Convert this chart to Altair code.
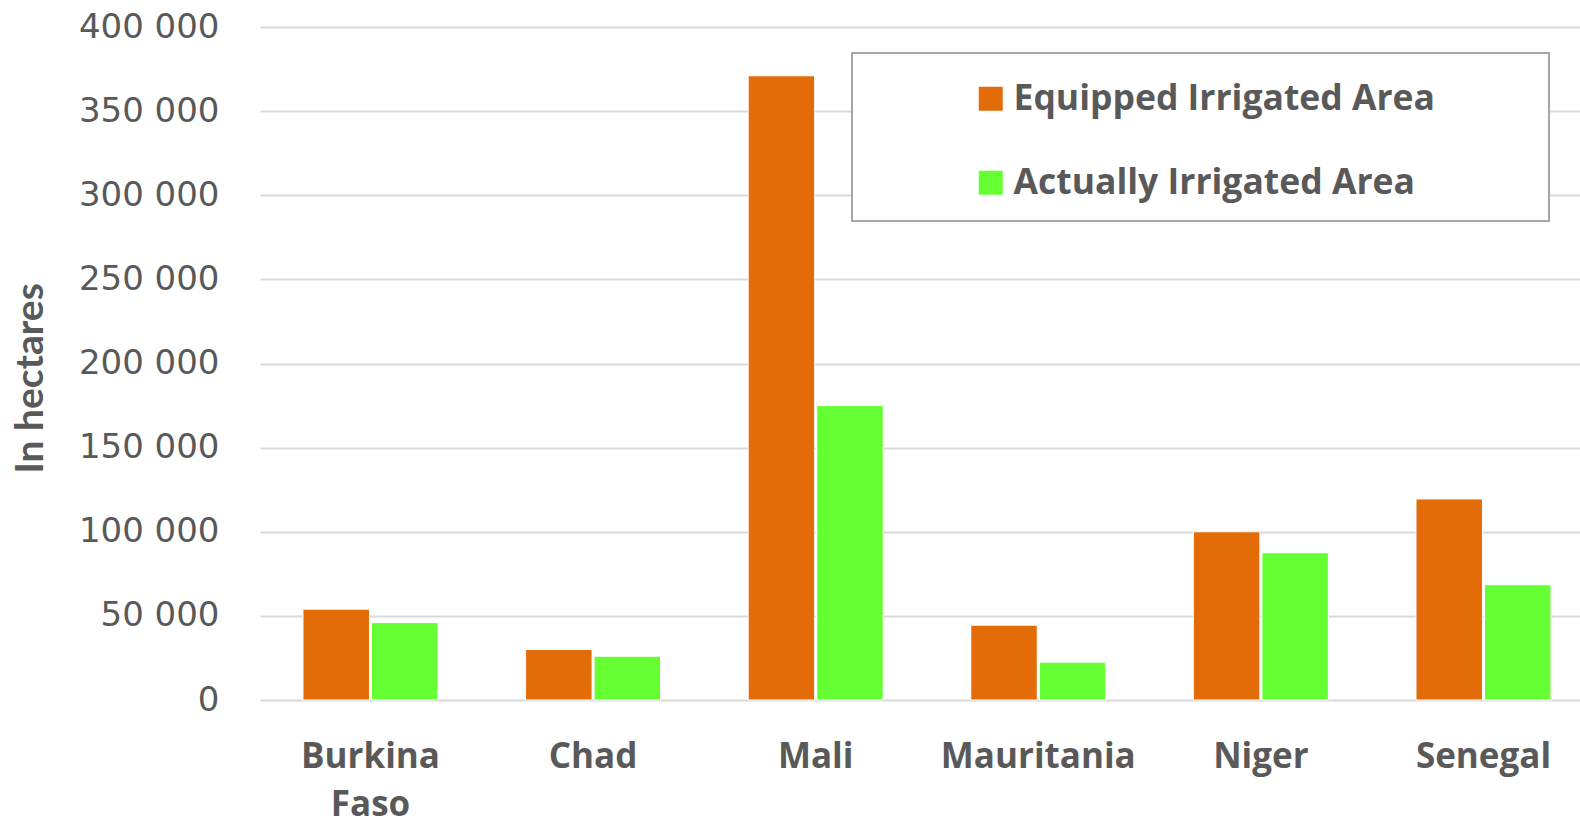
import altair as alt
import pandas as pd

countries = ["Burkina Faso", "Chad", "Mali", "Mauritania", "Niger", "Senegal"]
series = ["Equipped Irrigated Area", "Actually Irrigated Area"]
equipped = [54000, 30000, 371000, 44500, 100000, 119500]
actual = [46000, 26000, 175000, 22500, 87500, 68500]
y_ticks = [0, 50000, 100000, 150000, 200000, 250000, 300000, 350000, 400000]
colors = ["#E36C09", "#66FF33"]

rows = []
for c, e, a in zip(countries, equipped, actual):
    rows.append({"country": c, "series": series[0], "value": e})
    rows.append({"country": c, "series": series[1], "value": a})
df = pd.DataFrame(rows)

bars = alt.Chart(df).mark_bar(stroke="white", strokeWidth=1).encode(
    x=alt.X(
        "country:N",
        sort=countries,
        scale=alt.Scale(paddingInner=0.3935, paddingOuter=0.1617, align=0.597),
        axis=alt.Axis(
            title=None,
            domain=False,
            ticks=False,
            tickSize=0,
            labelFont="Open Sans",
            labelFontWeight="bold",
            labelFontSize=35,
            labelColor="#595959",
            labelPadding=39,
            labelAngle=0,
            labelLimit=400,
            labelLineHeight=48,
            labelExpr="datum.label == 'Burkina Faso' ? ['Burkina', 'Faso'] : datum.label",
        ),
    ),
    xOffset=alt.XOffset("series:N", sort=series, scale=alt.Scale(paddingInner=0.03)),
    y=alt.Y(
        "value:Q",
        scale=alt.Scale(domain=[0, 400000], nice=False),
        axis=alt.Axis(
            values=y_ticks,
            title="In hectares",
            titleFont="Lato",
            titleFontWeight="bold",
            titleFontSize=39,
            titleColor="#595959",
            titleX=-230,
            titleY=351,
            titleAngle=270,
            titleAlign="center",
            titleBaseline="middle",
            domain=False,
            ticks=False,
            tickSize=0,
            labelFont="DejaVu Sans",
            labelFontSize=34,
            labelColor="#595959",
            labelPadding=41,
            labelExpr="replace(format(datum.value, ','), regexp(',', 'g'), ' ')",
            grid=True,
            gridColor="#d9d9d9",
            gridWidth=2,
        ),
    ),
    color=alt.Color(
        "series:N",
        sort=series,
        scale=alt.Scale(domain=series, range=colors),
        legend=alt.Legend(
            title=None,
            orient="none",
            legendX=713,
            legendY=54,
            symbolType="square",
            symbolSize=576,
            symbolStrokeWidth=0,
            labelFont="Open Sans",
            labelFontWeight="bold",
            labelFontSize=35.5,
            labelColor="#595959",
            labelOffset=5,
            rowPadding=47,
            labelLimit=1000,
            padding=0,
        ),
    ),
)

frame = alt.Chart(pd.DataFrame({"k": [0]})).mark_rect(
    fill="white", stroke="#a6a6a6", strokeWidth=2
).encode(
    x=alt.value(592), x2=alt.value(1289), y=alt.value(26), y2=alt.value(194)
)

chart = alt.layer(bars, frame).properties(
    width=1320,
    height=673,
    background="white",
    autosize=alt.AutoSizeParams(type="none"),
    padding={"left": 260, "top": 27, "right": 0, "bottom": 124},
).configure_view(stroke=None)

chart.save("out.html", embed_options={"renderer": "svg", "actions": False})
